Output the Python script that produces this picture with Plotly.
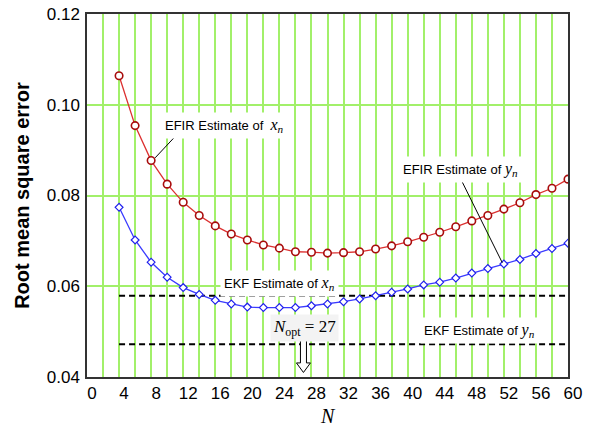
import plotly.graph_objects as go

# window lengths N
n_vals = list(range(4, 61, 2))

efir_x = [0.1064, 0.0954, 0.0877, 0.0825, 0.0785, 0.0756, 0.0733, 0.0715, 0.0702, 0.0691,
          0.0684, 0.0676, 0.0675, 0.0673, 0.0674, 0.0676, 0.0682, 0.0689, 0.0698, 0.0708,
          0.0719, 0.0731, 0.0744, 0.0756, 0.0770, 0.0784, 0.0802, 0.0816, 0.0836]
efir_y = [0.0774, 0.0702, 0.0653, 0.0620, 0.0597, 0.0582, 0.0569, 0.0561, 0.0554, 0.0553,
          0.0553, 0.0553, 0.0557, 0.0561, 0.0566, 0.0572, 0.0579, 0.0587, 0.0594, 0.0603,
          0.0609, 0.0618, 0.0629, 0.0639, 0.0649, 0.0659, 0.0672, 0.0683, 0.0695]

ekf_x = 0.0579
ekf_y = 0.0472
n_opt = 27

x_ticks = list(range(0, 61, 4))
y_ticks = [0.04, 0.06, 0.08, 0.10, 0.12]

SANS = "Liberation Sans, Arial, sans-serif"
SERIF = "Liberation Serif, Times New Roman, serif"
GRID = "#a2f06a"

fig = go.Figure()

fig.add_trace(go.Scatter(
    x=[n_vals[0], n_vals[-1]], y=[ekf_x, ekf_x], mode="lines",
    line=dict(color="black", width=2, dash="6px,4px"), hoverinfo="skip"))
fig.add_trace(go.Scatter(
    x=[n_vals[0], n_vals[-1]], y=[ekf_y, ekf_y], mode="lines",
    line=dict(color="black", width=2, dash="6px,4px"), hoverinfo="skip"))

fig.add_trace(go.Scatter(
    x=n_vals, y=efir_x, mode="lines+markers",
    line=dict(color="#dc3030", width=1.3),
    marker=dict(symbol="circle", size=7.5, color="white",
                line=dict(color="#a80c0c", width=1.6))))
fig.add_trace(go.Scatter(
    x=n_vals, y=efir_y, mode="lines+markers",
    line=dict(color="#3a3aff", width=1.3),
    marker=dict(symbol="diamond", size=6, color="white",
                line=dict(color="#2020ee", width=1.2))))

# leader lines for the EFIR labels
fig.add_shape(type="line", xref="x", yref="y", x0=11.1, y0=0.0932, x1=8.5, y1=0.0883,
              line=dict(color="black", width=1))
fig.add_shape(type="line", xref="x", yref="y", x0=46.8, y0=0.0830, x1=51.8, y1=0.0652,
              line=dict(color="black", width=1))

# hollow block arrow under N_opt
hw, sw = 0.875, 0.375
y_top, y_neck, y_tip = 0.0500, 0.0431, 0.0410
arrow_path = (f"M {n_opt - sw},{y_top} L {n_opt + sw},{y_top} L {n_opt + sw},{y_neck} "
              f"L {n_opt + hw},{y_neck} L {n_opt},{y_tip} L {n_opt - hw},{y_neck} "
              f"L {n_opt - sw},{y_neck} Z")
fig.add_shape(type="path", xref="x", yref="y", path=arrow_path,
              fillcolor="white", line=dict(color="black", width=1))

def math(sym):
    return f"<span style='font-family:{SERIF}; font-size:16px'><i>{sym}<sub>n</sub></i></span>"

labels = [
    ("EFIR Estimate of  " + math("x"), 17.1, 0.0954),
    ("EFIR Estimate of " + math("y"), 46.65, 0.0857),
    ("EKF Estimate of " + math("x"), 24.0, 0.0605),
    ("EKF Estimate of " + math("y"), 48.9, 0.0502),
]
for text, ax_, ay_ in labels:
    fig.add_annotation(x=ax_, y=ay_, xref="x", yref="y", text=text, showarrow=False,
                       font=dict(family=SANS, size=13, color="black"),
                       bgcolor="white", borderpad=3)

fig.add_annotation(
    x=n_opt + 0.1, y=0.0509, xref="x", yref="y", showarrow=False,
    text=f"<i>N</i><sub>opt</sub> = {n_opt}",
    font=dict(family=SERIF, size=17, color="black"),
    bgcolor="#f3f3f3", borderpad=2)

# x axis title as an annotation so it can sit close to the bottom edge
fig.add_annotation(
    x=0.5, y=0, xref="paper", yref="paper", yanchor="bottom", yshift=-51,
    text="<i>N</i>", showarrow=False, borderpad=0,
    font=dict(family=SERIF, size=20, color="black"))

fig.update_layout(
    width=600, height=428,
    margin=dict(l=87, r=32, t=14, b=51),
    paper_bgcolor="white", plot_bgcolor="white",
    showlegend=False,
    font=dict(family=SANS, size=17, color="black"),
)
fig.update_xaxes(
    range=[0, 60], tickvals=x_ticks, ticks="", ticklabelshift=5, automargin=False,
    ticklabeloverflow="allow",
    showgrid=True, gridcolor=GRID, gridwidth=1.5,
    minor=dict(dtick=2, showgrid=True, gridcolor=GRID, gridwidth=1.5),
    showline=True, linecolor="#333", linewidth=1.5, mirror=True, zeroline=False,
)
fig.update_yaxes(
    range=[0.04, 0.12], tickvals=y_ticks, tickformat=".2f", ticks="", automargin=False,
    ticklabelstandoff=2, ticklabeloverflow="allow",
    showgrid=True, gridcolor=GRID, gridwidth=1.5,
    showline=True, linecolor="#333", linewidth=1.5, mirror=True, zeroline=False,
    title=dict(text="<b>Root mean square error</b>", font=dict(family=SANS, size=20), standoff=12),
)

# drop the default 8px page margin so the figure fills the window
fig.write_html("out.html", config={"displayModeBar": False},
               post_script="document.body.style.margin = '0px';")
